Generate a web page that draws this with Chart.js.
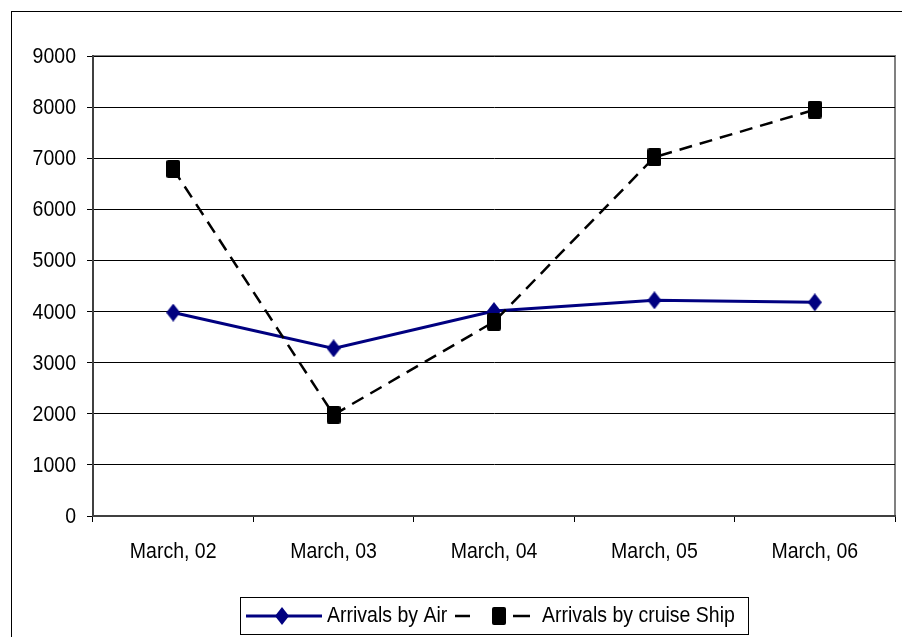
<!DOCTYPE html>
<html>
<head>
<meta charset="utf-8">
<script src="https://cdn.jsdelivr.net/npm/chart.js@4/dist/chart.umd.min.js"></script>
<style>
  body { margin: 0; background: #fff; }
  canvas { display: block; }
</style>
</head>
<body>
<canvas id="chart" width="902" height="637"></canvas>
<script>
const days = ["March, 02", "March, 03", "March, 04", "March, 05", "March, 06"];
const byAir = [3980, 3280, 4010, 4220, 4180];
const byShip = [6790, 1980, 3800, 7020, 7950];
const yTicks = [0, 1000, 2000, 3000, 4000, 5000, 6000, 7000, 8000, 9000];

const FONT = "Liberation Sans, Arial, sans-serif";
const TXT = "19.5px " + FONT;
const STRETCH = 1.12; // the original text is a bit taller than wide
const NAVY = "#000080";

// markers are a little taller than wide in the original
function makeDiamond() {
  const c = document.createElement("canvas");
  c.width = 14; c.height = 18;
  const g = c.getContext("2d");
  g.fillStyle = NAVY;
  g.beginPath();
  g.moveTo(7, 0); g.lineTo(14, 9); g.lineTo(7, 18); g.lineTo(0, 9);
  g.closePath();
  g.fill();
  return c;
}
function makeSquare() {
  const c = document.createElement("canvas");
  c.width = 14; c.height = 18;
  const g = c.getContext("2d");
  g.fillStyle = "#000";
  g.beginPath();
  g.roundRect(0, 0, 14, 18, 2);
  g.fill();
  return c;
}
const diamond = makeDiamond();
const square = makeSquare();

function stretchedText(ctx, text, x, y) {
  ctx.save();
  ctx.translate(x, y);
  ctx.scale(1, STRETCH);
  ctx.fillText(text, 0, 0);
  ctx.restore();
}

// outer frame + grey plot border
const framePlugin = {
  id: "frame",
  beforeDraw(chart) {
    const ctx = chart.ctx;
    const a = chart.chartArea;
    ctx.save();
    ctx.fillStyle = "#fff";
    ctx.fillRect(0, 0, chart.width, chart.height);
    ctx.strokeStyle = "#000";
    ctx.lineWidth = 1;
    ctx.strokeRect(11.5, 11.5, 1000, 1000);
    ctx.strokeStyle = "#808080";
    ctx.lineWidth = 2;
    ctx.strokeRect(a.left, a.top, a.right - a.left, a.bottom - a.top);
    ctx.restore();
  }
};

// tick labels drawn from the scales, slightly stretched vertically
const labelPlugin = {
  id: "labels",
  afterDraw(chart) {
    const ctx = chart.ctx;
    const xs = chart.scales.x, ys = chart.scales.y;
    ctx.save();
    ctx.fillStyle = "#000";
    ctx.font = TXT;
    ctx.textAlign = "center";
    ctx.textBaseline = "alphabetic";
    xs.ticks.forEach((t, i) => {
      stretchedText(ctx, xs.getLabelForValue(t.value), xs.getPixelForTick(i), 558);
    });
    ctx.textAlign = "right";
    ctx.textBaseline = "middle";
    ys.ticks.forEach((t) => {
      stretchedText(ctx, String(t.value), ys.left + ys.width - 17, ys.getPixelForValue(t.value) + 1);
    });
    ctx.restore();
  }
};

// legend box at the bottom, line + marker samples like the original
const legendPlugin = {
  id: "boxLegend",
  afterDraw(chart) {
    const ctx = chart.ctx;
    const cy = 616;
    ctx.save();
    ctx.strokeStyle = "#000";
    ctx.lineWidth = 1;
    ctx.strokeRect(240.5, 597.5, 508, 37);

    // air sample
    ctx.strokeStyle = NAVY;
    ctx.lineWidth = 3;
    ctx.beginPath();
    ctx.moveTo(246, cy);
    ctx.lineTo(322, cy);
    ctx.stroke();
    ctx.drawImage(diamond, 282 - 7, cy - 9);

    // ship sample
    ctx.strokeStyle = "#000";
    ctx.lineWidth = 2.5;
    ctx.beginPath();
    ctx.moveTo(455, cy);
    ctx.lineTo(470, cy);
    ctx.moveTo(513, cy);
    ctx.lineTo(530, cy);
    ctx.stroke();
    ctx.drawImage(square, 499 - 7, cy - 9);

    ctx.fillStyle = "#000";
    ctx.font = TXT;
    ctx.textAlign = "left";
    ctx.textBaseline = "middle";
    stretchedText(ctx, "Arrivals by Air", 327, cy);
    stretchedText(ctx, "Arrivals by cruise Ship", 542, cy);
    ctx.restore();
  }
};

new Chart(document.getElementById("chart").getContext("2d"), {
  type: "line",
  data: {
    labels: days,
    datasets: [
      {
        label: "Arrivals by Air",
        data: byAir,
        borderColor: NAVY,
        backgroundColor: NAVY,
        borderWidth: 3,
        pointStyle: diamond,
        tension: 0,
        fill: false,
        order: 1,
      },
      {
        label: "Arrivals by cruise Ship",
        data: byShip,
        borderColor: "#000",
        backgroundColor: "#000",
        borderWidth: 2.5,
        borderDash: [13, 8],
        pointStyle: square,
        tension: 0,
        fill: false,
        order: 0,
      },
    ],
  },
  options: {
    responsive: false,
    animation: false,
    devicePixelRatio: 1,
    layout: { padding: { left: 11, top: 56, right: 7, bottom: 71 } },
    plugins: {
      legend: { display: false },
      tooltip: { enabled: false },
    },
    scales: {
      x: {
        offset: true,
        grid: { offset: true, drawOnChartArea: false, drawTicks: true, tickLength: 6, color: "#000" },
        border: { color: "#404040", width: 2 },
        ticks: { color: "rgba(0,0,0,0)", font: { family: FONT, size: 19.5 }, padding: 14, maxRotation: 0 },
        afterFit(scale) { scale.height = 50; },
      },
      y: {
        min: 0,
        max: 9000,
        afterBuildTicks(scale) { scale.ticks = yTicks.map(v => ({ value: v })); },
        grid: { color: "#000", lineWidth: 1, tickLength: 6 },
        border: { color: "#404040", width: 2 },
        ticks: { color: "rgba(0,0,0,0)", font: { family: FONT, size: 19.5 }, padding: 11 },
        afterFit(scale) { scale.width = 82; },
      },
    },
  },
  plugins: [framePlugin, labelPlugin, legendPlugin],
});
</script>
</body>
</html>
